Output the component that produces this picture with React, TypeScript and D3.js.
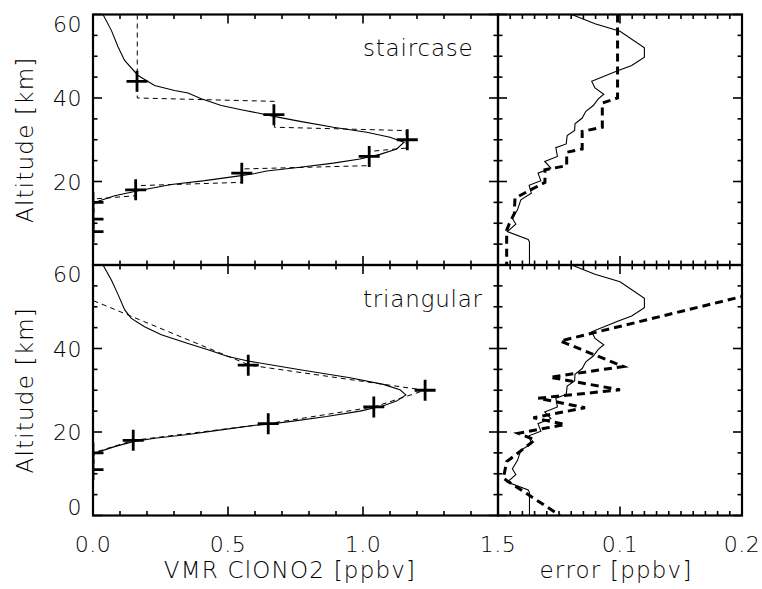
import React from 'react';
import * as d3 from 'd3';

const W = 762;
const H = 589;

// profiles as [vmr ppbv, altitude km]
const stairTrue = [
  [0.164, 60], [0.164, 40], [0.672, 39.2], [0.672, 33], [1.16, 32.2], [1.16, 28],
  [1.023, 27.2], [1.023, 23.8], [0.551, 23.0], [0.551, 19.8], [0.16, 19.0],
  [0.16, 16.6], [0, 15.8], [0, 0],
];
const stairRetrieved = [
  [0.037, 60], [0.068, 56.2], [0.093, 52.2], [0.117, 49], [0.167, 45.4], [0.228, 43],
  [0.302, 41.8], [0.352, 41.2], [0.401, 39.8], [0.475, 38.2], [0.549, 37.2], [0.611, 36.4],
  [0.67, 35.6], [0.767, 34.4], [0.89, 33.0], [1.014, 31.8], [1.1, 30.6], [1.152, 29.4],
  [1.125, 27.8], [1.063, 26.5], [0.989, 25.4], [0.89, 24.4], [0.767, 23.4], [0.643, 22.5],
  [0.6, 21.9], [0.549, 21.4], [0.414, 20.2], [0.29, 19.3], [0.167, 17.8], [0.08, 16.6],
  [0.006, 15.0], [0, 14], [0, 0],
];
const stairMarks = [
  [0.163, 44], [0.67, 36], [1.164, 30], [1.023, 26], [0.551, 22], [0.158, 18],
  [0, 15], [0, 11], [0, 8],
];

const triTrue = [
  [0, 60], [0, 51.5], [0.58, 36], [1.23, 30], [1.04, 26], [0.65, 22], [0.15, 18], [0, 15], [0, 0],
];
const triRetrieved = [
  [0.037, 60], [0.068, 56.4], [0.093, 52.9], [0.117, 49.3], [0.142, 47.2], [0.191, 45.2],
  [0.253, 43.3], [0.352, 41.2], [0.426, 39.7], [0.5, 38.1], [0.574, 37.0], [0.767, 34.9],
  [0.952, 33.0], [1.075, 31.4], [1.137, 30.1], [1.159, 28.9], [1.124, 27.4], [1.075, 26.3],
  [0.989, 25.0], [0.865, 23.7], [0.741, 22.6], [0.643, 21.8], [0.6, 21.6], [0.475, 20.5],
  [0.352, 19.4], [0.228, 18.5], [0.148, 17.7], [0.08, 16.5], [0.006, 14.9], [0, 14], [0, 0],
];
const triMarks = [
  [0.575, 36], [1.23, 30], [1.04, 26], [0.649, 22], [0.149, 18], [0, 15], [0, 11],
];

// errors as [error ppbv, altitude km]
const noiseError = [
  [0.0604, 60], [0.0795, 57.8], [0.1, 56.0], [0.12, 52.0], [0.12, 49.8], [0.1096, 47.8],
  [0.0986, 46.6], [0.0768, 44.0], [0.0795, 42.4], [0.0867, 40.9], [0.0822, 39.8],
  [0.0781, 38.2], [0.072, 36.8], [0.069, 35.2], [0.0631, 33.8], [0.0628, 32.2],
  [0.0567, 31.0], [0.0559, 29.0], [0.0474, 28.1], [0.0487, 26.0], [0.0383, 24.8],
  [0.0433, 23.2], [0.0328, 22.0], [0.0351, 20.2], [0.0255, 19.1], [0.0273, 17.2],
  [0.0187, 15.6], [0.016, 13.2], [0.0118, 11.2], [0.0146, 9.8], [0.0076, 8.0],
  [0.0248, 6.1], [0.0258, 5.5], [0.0258, 0],
];
const stairError = [
  [0.098, 60], [0.098, 40], [0.0855, 38.8], [0.0855, 33], [0.069, 32], [0.069, 27.8],
  [0.0563, 27], [0.0563, 23.8], [0.0385, 22.8], [0.0385, 19.8], [0.0139, 16.0],
  [0.0134, 12.3], [0.0098, 10.3], [0.0071, 8.3], [0.0071, 0],
];
const triError = [
  [0.205, 52.8], [0.051, 41.8], [0.1027, 35.7], [0.0426, 33.1], [0.1, 30.1], [0.033, 28.1],
  [0.0713, 25.8], [0.029, 23.4], [0.0549, 21.8], [0.0166, 19.7], [0.0303, 18.1],
  [0.0071, 12.9], [0.0044, 8.9], [0.0508, 0],
];

const vmrTicks = [0, 0.5, 1.0, 1.5];
const errTicks = [0.1, 0.2];
const altTicksTop = [60, 40, 20];
const altTicksBottom = [60, 40, 20, 0];

const FONT = '"DejaVu Sans ExtraLight", "DejaVu Sans", sans-serif';
const WEIGHT = 200;

const xVmr = d3.scaleLinear().domain([0, 1.5]).range([93, 498]);
const xErr = d3.scaleLinear().domain([0, 0.2]).range([498, 742]);
const yTop = d3.scaleLinear().domain([0, 60]).range([265, 14.5]);
const yBot = d3.scaleLinear().domain([0, 60]).range([515.5, 265]);

const steps = (max, step) => d3.range(0, Math.round(max / step) + 1).map((i) => i * step);

const Frame = ({ x, y, xStep, xMajor, id, children }) => {
  const [x0, x1] = x.range();
  const [y0, y1] = y.range();
  const xd = x.domain()[1];
  const xs = steps(xd, xStep);
  const ys = steps(60, 5);
  const major = (v, m) => Math.abs(v / m - Math.round(v / m)) < 1e-6;
  return (
    <g>
      <clipPath id={id}>
        <rect x={x0} y={y1} width={x1 - x0} height={y0 - y1} />
      </clipPath>
      <g clipPath={`url(#${id})`}>{children}</g>
      <g stroke="#000" strokeWidth={1.6}>
        {xs.map((v, i) => {
          const len = major(v, xMajor) ? 9 : 4.5;
          return (
            <g key={'x' + i}>
              <line x1={x(v)} x2={x(v)} y1={y0} y2={y0 - len} />
              <line x1={x(v)} x2={x(v)} y1={y1} y2={y1 + len} />
            </g>
          );
        })}
        {ys.map((v, i) => {
          const len = major(v, 20) ? 9 : 4.5;
          return (
            <g key={'y' + i}>
              <line x1={x0} x2={x0 + len} y1={y(v)} y2={y(v)} />
              <line x1={x1} x2={x1 - len} y1={y(v)} y2={y(v)} />
            </g>
          );
        })}
      </g>
      <rect x={x0} y={y1} width={x1 - x0} height={y0 - y1} fill="none" stroke="#000" strokeWidth={2.2} />
    </g>
  );
};

const Marks = ({ data, x, y }) => (
  <g stroke="#000" strokeWidth={2.8}>
    {data.map((d, i) => (
      <g key={i}>
        <line x1={x(d[0]) - 10.5} x2={x(d[0]) + 10.5} y1={y(d[1])} y2={y(d[1])} />
        <line x1={x(d[0])} x2={x(d[0])} y1={y(d[1]) - 10.5} y2={y(d[1]) + 10.5} />
      </g>
    ))}
  </g>
);

const AltLabels = ({ ticks, y }) => {
  const [y0, y1] = y.range();
  return (
    <g fontFamily={FONT} fontWeight={WEIGHT} fontSize={22} textAnchor="end" letterSpacing={0.5}>
      {ticks.map((t) => {
        const c = Math.min(Math.max(y(t), y1 + 9), y0 - 9);
        return (
          <text key={t} x={82} y={c + 8}>{t}</text>
        );
      })}
    </g>
  );
};

export default function App() {
  const lineOf = (x, y) => d3.line().x((d) => x(d[0])).y((d) => y(d[1]));
  const vTop = lineOf(xVmr, yTop);
  const vBot = lineOf(xVmr, yBot);
  const eTop = lineOf(xErr, yTop);
  const eBot = lineOf(xErr, yBot);

  return (
    <svg width={W} height={H} style={{ position: 'absolute', left: 0, top: 0, background: '#fff' }}>
      <rect width={W} height={H} fill="#fff" />
      <Frame x={xVmr} y={yTop} xStep={0.1} xMajor={0.5} id="c1">
        <path d={vTop(stairTrue)} fill="none" stroke="#000" strokeWidth={1} strokeDasharray="5,4" />
        <path d={vTop(stairRetrieved)} fill="none" stroke="#000" strokeWidth={1.1} />
        <Marks data={stairMarks} x={xVmr} y={yTop} />
        <text x={xVmr(1.0)} y={yTop(50)} fontFamily={FONT} fontWeight={WEIGHT} fontSize={23} letterSpacing={0.8}>staircase</text>
      </Frame>
      <Frame x={xVmr} y={yBot} xStep={0.1} xMajor={0.5} id="c2">
        <path d={vBot(triTrue)} fill="none" stroke="#000" strokeWidth={1} strokeDasharray="5,4" />
        <path d={vBot(triRetrieved)} fill="none" stroke="#000" strokeWidth={1.1} />
        <Marks data={triMarks} x={xVmr} y={yBot} />
        <text x={xVmr(1.0)} y={yBot(50)} fontFamily={FONT} fontWeight={WEIGHT} fontSize={23} letterSpacing={0.8}>triangular</text>
      </Frame>
      <Frame x={xErr} y={yTop} xStep={0.01} xMajor={0.1} id="c3">
        <path d={eTop(stairError)} fill="none" stroke="#000" strokeWidth={3} strokeDasharray="8,5" />
        <path d={eTop(noiseError)} fill="none" stroke="#000" strokeWidth={1.1} />
      </Frame>
      <Frame x={xErr} y={yBot} xStep={0.01} xMajor={0.1} id="c4">
        <path d={eBot(triError)} fill="none" stroke="#000" strokeWidth={3} strokeDasharray="8,5" />
        <path d={eBot(noiseError)} fill="none" stroke="#000" strokeWidth={1.1} />
      </Frame>

      <AltLabels ticks={altTicksTop} y={yTop} />
      <AltLabels ticks={altTicksBottom} y={yBot} />

      <g fontFamily={FONT} fontWeight={WEIGHT} fontSize={22} textAnchor="middle" letterSpacing={0.5}>
        {vmrTicks.map((t) => (
          <text key={t} x={xVmr(t)} y={552}>{t.toFixed(1)}</text>
        ))}
        {errTicks.map((t) => (
          <text key={t} x={xErr(t)} y={552}>{t.toFixed(1)}</text>
        ))}
      </g>

      <g fontFamily={FONT} fontWeight={WEIGHT} fontSize={23} textAnchor="middle" letterSpacing={1.2}>
        <text transform={`translate(33,${(yTop(0) + yTop(60)) / 2}) rotate(-90)`}>Altitude [km]</text>
        <text transform={`translate(33,${(yBot(0) + yBot(60)) / 2}) rotate(-90)`}>Altitude [km]</text>
        <text x={290} y={578}>VMR ClONO2 [ppbv]</text>
        <text x={616} y={578}>error [ppbv]</text>
      </g>
    </svg>
  );
}
